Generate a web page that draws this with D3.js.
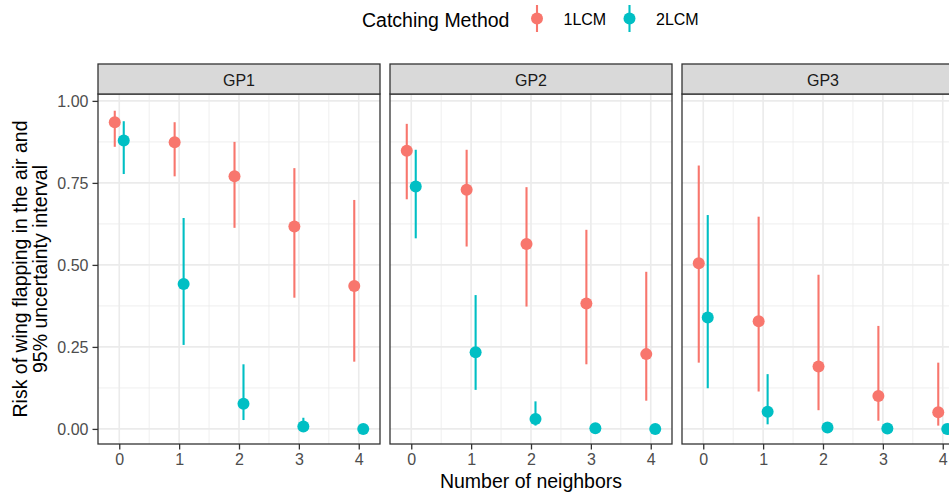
<!DOCTYPE html>
<html>
<head>
<meta charset="utf-8">
<script src="https://cdn.jsdelivr.net/npm/d3@7"></script>
<style>
  body { margin: 0; background: #fff; }
  svg { display: block; font-family: "Liberation Sans", Arial, sans-serif; }
</style>
</head>
<body>
<svg id="chart" width="949" height="493"></svg>
<script>
// facets, groups and x categories
const panels = ['GP1', 'GP2', 'GP3'];
const methods = ['1LCM', '2LCM'];
const neighbors = [0, 1, 2, 3, 4];
const yTicks = [0, 0.25, 0.5, 0.75, 1];
const yTickLabels = ['0.00', '0.25', '0.50', '0.75', '1.00'];

// estimates and 95% interval, one row per panel (GP1, GP2, GP3)
const est1LCM = [[0.935, 0.874, 0.770, 0.617, 0.436], [0.848, 0.729, 0.564, 0.382, 0.228], [0.505, 0.328, 0.190, 0.100, 0.051]];
const lo1LCM  = [[0.860, 0.770, 0.613, 0.400, 0.205], [0.700, 0.556, 0.373, 0.197, 0.086], [0.202, 0.114, 0.057, 0.025, 0.010]];
const hi1LCM  = [[0.970, 0.935, 0.875, 0.795, 0.698], [0.930, 0.851, 0.737, 0.607, 0.479], [0.803, 0.647, 0.470, 0.314, 0.202]];
const est2LCM = [[0.879, 0.442, 0.077, 0.007, 0.000], [0.739, 0.234, 0.030, 0.002, 0.000], [0.340, 0.052, 0.004, 0.001, 0.000]];
const lo2LCM  = [[0.777, 0.256, 0.027, 0.001, 0.000], [0.581, 0.119, 0.010, 0.000, 0.000], [0.124, 0.014, 0.001, 0.000, 0.000]];
const hi2LCM  = [[0.938, 0.643, 0.197, 0.034, 0.003], [0.851, 0.408, 0.084, 0.012, 0.003], [0.652, 0.167, 0.015, 0.008, 0.002]];

const colors = { '1LCM': '#F8766D', '2LCM': '#00BFC4' };
const series = {
  '1LCM': { est: est1LCM, lo: lo1LCM, hi: hi1LCM },
  '2LCM': { est: est2LCM, lo: lo2LCM, hi: hi2LCM }
};

const svg = d3.select('#chart');
const panelW = 282, gap = 10, left0 = 98;
const stripTop = 64, stripH = 30, panelTop = 94, panelBottom = 444;
const dodge = 0.075;
const small = 16;

const x = d3.scaleLinear().domain([-0.355, 4.355]).range([0, panelW]);
const y = d3.scaleLinear().domain([-0.046, 1.021]).range([panelBottom, panelTop]);

const xMinor = [0.5, 1.5, 2.5, 3.5];
const yMinor = [0.125, 0.375, 0.625, 0.875];

panels.forEach((name, pi) => {
  const g = svg.append('g').attr('transform', `translate(${left0 + pi * (panelW + gap)},0)`);

  g.append('rect')
    .attr('x', 0).attr('y', panelTop)
    .attr('width', panelW).attr('height', panelBottom - panelTop)
    .attr('fill', '#fff');

  // grid
  g.selectAll('.ymin').data(yMinor).join('line')
    .attr('x1', 0).attr('x2', panelW)
    .attr('y1', d => y(d)).attr('y2', d => y(d))
    .attr('stroke', '#ebebeb').attr('stroke-width', 0.8);
  g.selectAll('.xmin').data(xMinor).join('line')
    .attr('y1', panelTop).attr('y2', panelBottom)
    .attr('x1', d => x(d)).attr('x2', d => x(d))
    .attr('stroke', '#ebebeb').attr('stroke-width', 0.8);
  g.selectAll('.ymaj').data(yTicks).join('line')
    .attr('x1', 0).attr('x2', panelW)
    .attr('y1', d => y(d)).attr('y2', d => y(d))
    .attr('stroke', '#ebebeb').attr('stroke-width', 1.6);
  g.selectAll('.xmaj').data(neighbors).join('line')
    .attr('y1', panelTop).attr('y2', panelBottom)
    .attr('x1', d => x(d)).attr('x2', d => x(d))
    .attr('stroke', '#ebebeb').attr('stroke-width', 1.6);

  // pointranges
  methods.forEach((m, mi) => {
    const off = mi === 0 ? -dodge : dodge;
    const s = series[m];
    const rows = neighbors.map((n, i) => ({ n, est: s.est[pi][i], lo: s.lo[pi][i], hi: s.hi[pi][i] }));
    g.append('g').selectAll('line').data(rows).join('line')
      .attr('x1', d => x(d.n + off)).attr('x2', d => x(d.n + off))
      .attr('y1', d => y(d.lo)).attr('y2', d => y(d.hi))
      .attr('stroke', colors[m]).attr('stroke-width', 2.1);
    g.append('g').selectAll('circle').data(rows).join('circle')
      .attr('cx', d => x(d.n + off)).attr('cy', d => y(d.est))
      .attr('r', 6).attr('fill', colors[m]);
  });

  g.append('rect')
    .attr('x', 0).attr('y', panelTop)
    .attr('width', panelW).attr('height', panelBottom - panelTop)
    .attr('fill', 'none').attr('stroke', '#333').attr('stroke-width', 1.3);

  // strip
  g.append('rect')
    .attr('x', 0).attr('y', stripTop)
    .attr('width', panelW).attr('height', stripH)
    .attr('fill', '#d9d9d9').attr('stroke', '#333').attr('stroke-width', 1.3);
  g.append('text')
    .attr('x', panelW / 2).attr('y', 85.5)
    .attr('text-anchor', 'middle').attr('font-size', small).attr('fill', '#1a1a1a')
    .text(name);

  // x axis
  const xa = g.append('g').attr('transform', `translate(0,${panelBottom})`)
    .call(d3.axisBottom(x).tickValues(neighbors).tickFormat(d3.format('d')).tickSize(5.5).tickPadding(4.5));
  xa.select('.domain').remove();
  xa.selectAll('line').attr('stroke', '#333').attr('stroke-width', 1.3);
  xa.selectAll('text').attr('font-size', small).attr('fill', '#4d4d4d').attr('font-family', null);

  // y axis on first panel only
  if (pi === 0) {
    const ya = g.append('g')
      .call(d3.axisLeft(y).tickValues(yTicks).tickFormat((d, i) => yTickLabels[i]).tickSize(5.5).tickPadding(4));
    ya.select('.domain').remove();
    ya.selectAll('line').attr('stroke', '#333').attr('stroke-width', 1.3);
    ya.selectAll('text').attr('font-size', small).attr('fill', '#4d4d4d').attr('font-family', null);
  }
});

// axis titles
svg.append('text')
  .attr('x', 531).attr('y', 488)
  .attr('text-anchor', 'middle').attr('font-size', 19.5).attr('fill', '#000')
  .text('Number of neighbors');

const yt = svg.append('text')
  .attr('transform', `translate(0,${(panelTop + panelBottom) / 2}) rotate(-90)`)
  .attr('text-anchor', 'middle').attr('font-size', 19.5).attr('fill', '#000');
yt.append('tspan').attr('x', 0).attr('y', 27).text('Risk of wing flapping in the air and');
yt.append('tspan').attr('x', 0).attr('y', 47).text('95% uncertainty interval');

// legend
const legend = svg.append('g');
legend.append('text')
  .attr('x', 362).attr('y', 26.5)
  .attr('font-size', 19.5).attr('fill', '#000')
  .text('Catching Method');
const keyX = [537, 629.5];
methods.forEach((m, i) => {
  legend.append('line')
    .attr('x1', keyX[i]).attr('x2', keyX[i])
    .attr('y1', 5).attr('y2', 32)
    .attr('stroke', colors[m]).attr('stroke-width', 2.1);
  legend.append('circle')
    .attr('cx', keyX[i]).attr('cy', 18.5).attr('r', 6).attr('fill', colors[m]);
  legend.append('text')
    .attr('x', keyX[i] + 26.5).attr('y', 25)
    .attr('font-size', small).attr('fill', '#000')
    .text(m);
});
</script>
</body>
</html>
